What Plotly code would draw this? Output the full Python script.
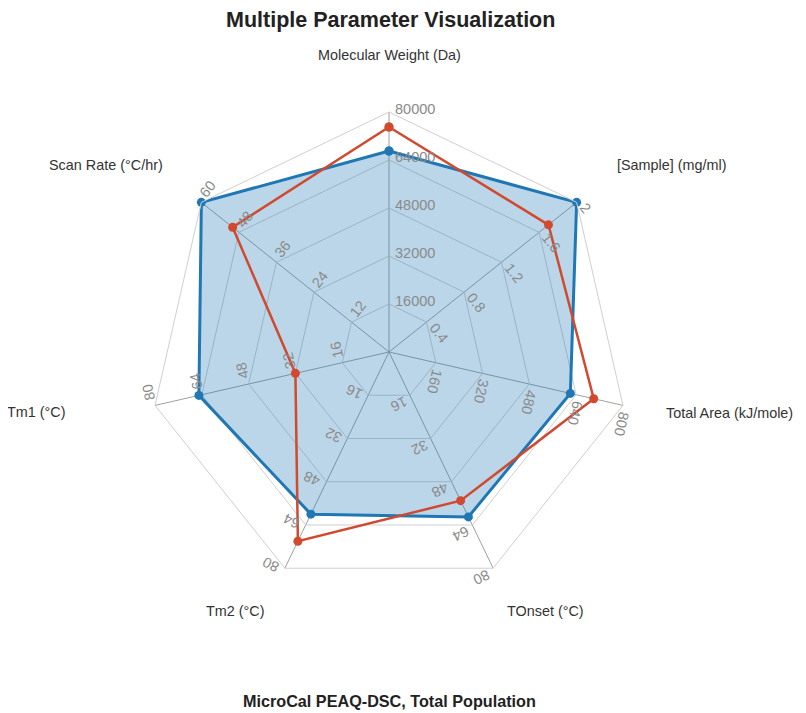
import math
import plotly.graph_objects as go

# ---------------- data ----------------
axis_names = ["Molecular Weight (Da)", "[Sample] (mg/ml)", "Total Area (kJ/mole)",
              "TOnset (°C)", "Tm2 (°C)", "Tm1 (°C)", "Scan Rate (°C/hr)"]
axis_max = [80000, 2, 800, 80, 80, 80, 60]
tick_labels = [
    ["16000", "32000", "48000", "64000", "80000"],
    ["0.4", "0.8", "1.2", "1.6", "2"],
    ["160", "320", "480", "640", "800"],
    ["16", "32", "48", "64", "80"],
    ["16", "32", "48", "64", "80"],
    ["16", "32", "48", "64", "80"],
    ["12", "24", "36", "48", "60"],
]
blue_values = [67000, 2.0, 620, 61, 60, 65, 60]
red_values = [75000, 1.7, 700, 55, 70, 32, 50]

# ---------------- geometry / style ----------------
W, H = 806, 713
OFF = 8  # page body margin
CX, CY, R = 389, 352, 240
FONT = "Liberation Sans, Arial, Helvetica, sans-serif"
BLUE = "rgb(31,119,180)"
RED = "rgb(209,73,46)"


def px(x):
    return (x - OFF) / W


def py(y):
    return 1 - (y - OFF) / H


def norm(vals):
    return [v / m for v, m in zip(vals, axis_max)]


theta = axis_names + [axis_names[0]]

fig = go.Figure()
fig.add_trace(go.Scatterpolar(
    r=norm(blue_values) + [norm(blue_values)[0]], theta=theta,
    mode="lines+markers", fill="toself", fillcolor="rgba(31,119,180,0.3)",
    line=dict(color=BLUE, width=3), marker=dict(color=BLUE, size=9),
    name="Series 1", hoverinfo="skip"))
fig.add_trace(go.Scatterpolar(
    r=norm(red_values) + [norm(red_values)[0]], theta=theta,
    mode="lines+markers",
    line=dict(color=RED, width=2.5), marker=dict(color=RED, size=9),
    name="Series 2", hoverinfo="skip"))

annotations = []
# rotated tick labels along every spoke
TFS = 14.5
for i, labels in enumerate(tick_labels):
    ang = math.radians(i * 360 / len(axis_names))
    ux, uy = math.sin(ang), -math.cos(ang)
    vx, vy = math.cos(ang), math.sin(ang)
    for k, lab in enumerate(labels):
        r = (k + 1) / len(labels)
        x0, y0 = CX + ux * r * R, CY + uy * r * R
        w = sum(0.278 if c == "." else 0.556 for c in lab) * TFS
        off = 6 + w / 2
        cx = x0 + vx * off + ux * 3
        cy = y0 + vy * off + uy * 3
        annotations.append(dict(
            x=px(cx), y=py(cy), xref="paper", yref="paper", text=lab,
            showarrow=False, textangle=i * 360 / len(axis_names),
            xanchor="center", yanchor="middle",
            font=dict(family=FONT, size=TFS, color="#8a8a8a")))

# axis names
name_pos = [
    (389, 55, "center"), (615, 165, "left"), (664, 413, "left"),
    (545, 611, "center"), (235, 611, "center"), (68, 412, "right"),
    (165, 165, "right"),
]
for name, (x, y, xa) in zip(axis_names, name_pos):
    annotations.append(dict(
        x=px(x), y=py(y), xref="paper", yref="paper", text=name,
        showarrow=False, xanchor=xa, yanchor="middle",
        font=dict(family=FONT, size=14.4, color="#333333")))

annotations.append(dict(
    x=px(390), y=py(20), xref="paper", yref="paper",
    text="<b>Multiple Parameter Visualization</b>", showarrow=False,
    xanchor="center", yanchor="middle",
    font=dict(family=FONT, size=21.5, color="#222222")))
annotations.append(dict(
    x=px(389), y=py(701), xref="paper", yref="paper",
    text="<b>MicroCal PEAQ-DSC, Total Population</b>", showarrow=False,
    xanchor="center", yanchor="middle",
    font=dict(family=FONT, size=16.2, color="#222222")))

fig.update_layout(
    width=W, height=H, margin=dict(l=0, r=0, t=0, b=0),
    paper_bgcolor="white", plot_bgcolor="white", showlegend=False,
    font=dict(family=FONT),
    polar=dict(
        domain=dict(x=[px(CX - R), px(CX + R)], y=[py(CY + R), py(CY - R)]),
        bgcolor="white", gridshape="linear",
        radialaxis=dict(range=[0, 1], tickvals=[0.2, 0.4, 0.6, 0.8, 1.0],
                        showticklabels=False, ticks="", showline=False,
                        gridcolor="#cfcfcf", gridwidth=1),
        angularaxis=dict(direction="clockwise", rotation=90,
                         showticklabels=False, ticks="",
                         showline=True, linecolor="#cfcfcf", linewidth=1,
                         gridcolor="#a0a0a0", gridwidth=1),
    ),
    annotations=annotations,
    dragmode=False, hovermode=False,
)

fig.write_html("out.html")
